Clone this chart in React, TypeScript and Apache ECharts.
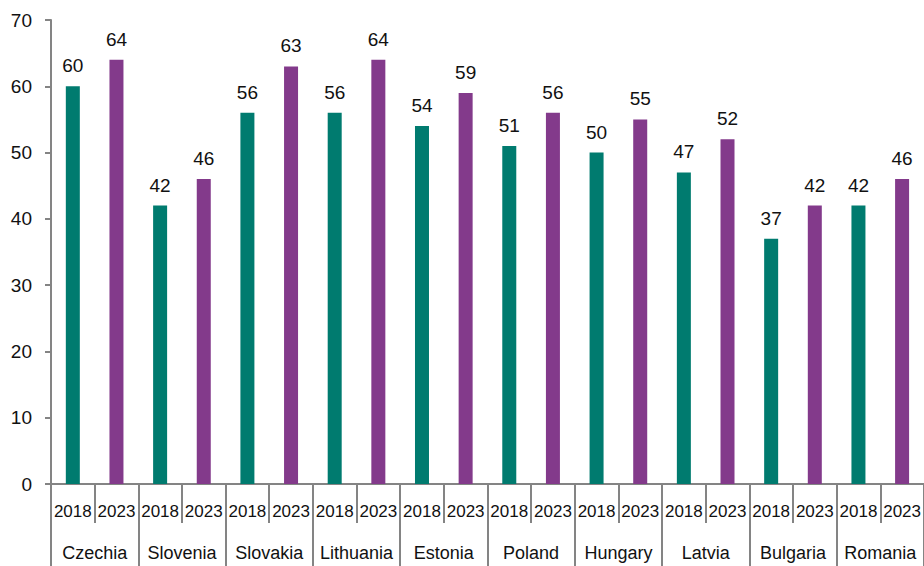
import React, { useEffect, useRef } from "react";
import * as echarts from "echarts";

const countries = ["Czechia", "Slovenia", "Slovakia", "Lithuania", "Estonia", "Poland", "Hungary", "Latvia", "Bulgaria", "Romania"];
const years = ["2018", "2023"];
const values2018 = [60, 42, 56, 56, 54, 51, 50, 47, 37, 42];
const values2023 = [64, 46, 63, 64, 59, 56, 55, 52, 42, 46];
const yTicks = { min: 0, max: 70, interval: 10 };

const FONT = '"Liberation Sans Narrow", "Arial Narrow", "Liberation Sans", Arial, sans-serif';
const TEAL = "#007B6F";
const PURPLE = "#833A8B";
const AXIS_GREY = "#848484";
const TEXT = "#111";

export default function App() {
  const ref = useRef<HTMLDivElement>(null);

  useEffect(() => {
    if (!ref.current) return;
    const chart = echarts.init(ref.current, undefined, { renderer: "svg" });

    // one slot per (country, year); each series fills only its own year's slots
    const yearSlots: string[] = [];
    const s2018: (number | string)[] = [];
    const s2023: (number | string)[] = [];
    countries.forEach((_, i) => {
      yearSlots.push(years[0], years[1]);
      s2018.push(values2018[i], "-");
      s2023.push("-", values2023[i]);
    });

    const label = {
      show: true,
      position: "top" as const,
      distance: 11,
      fontFamily: FONT,
      fontSize: 19,
      color: TEXT,
    };

    chart.setOption({
      animation: false,
      grid: { left: 51, right: 0, top: 20, bottom: 82, containLabel: false },
      xAxis: [
        {
          type: "category",
          data: yearSlots,
          position: "bottom",
          axisLine: { show: true, lineStyle: { color: AXIS_GREY, width: 2 } },
          axisTick: { show: true, interval: 0, length: 39, lineStyle: { color: AXIS_GREY, width: 2 } },
          axisLabel: { interval: 0, margin: 19, fontFamily: FONT, fontSize: 17, color: TEXT },
        },
        {
          type: "category",
          data: countries,
          position: "bottom",
          offset: 0,
          axisLine: { show: false },
          axisTick: { show: true, interval: 0, length: 90, lineStyle: { color: AXIS_GREY, width: 2 } },
          axisLabel: { interval: 0, margin: 60, fontFamily: FONT, fontSize: 18, color: TEXT },
        },
      ],
      yAxis: {
        type: "value",
        min: yTicks.min,
        max: yTicks.max,
        interval: yTicks.interval,
        axisLine: { show: true, lineStyle: { color: AXIS_GREY, width: 2 } },
        axisTick: { show: true, inside: false, length: 6, lineStyle: { color: AXIS_GREY, width: 2 } },
        splitLine: { show: false },
        axisLabel: { margin: 19, fontFamily: FONT, fontSize: 19, color: TEXT },
      },
      series: [
        {
          name: years[0],
          type: "bar",
          xAxisIndex: 0,
          data: s2018,
          barWidth: 14,
          barGap: "-100%",
          itemStyle: { color: TEAL },
          label,
        },
        {
          name: years[1],
          type: "bar",
          xAxisIndex: 0,
          data: s2023,
          barWidth: 14,
          barGap: "-100%",
          itemStyle: { color: PURPLE },
          label,
        },
      ],
    });

    return () => chart.dispose();
  }, []);

  return (
    <div
      ref={ref}
      style={{ position: "fixed", left: 0, top: 0, width: 924, height: 566, background: "#fff" }}
    />
  );
}
